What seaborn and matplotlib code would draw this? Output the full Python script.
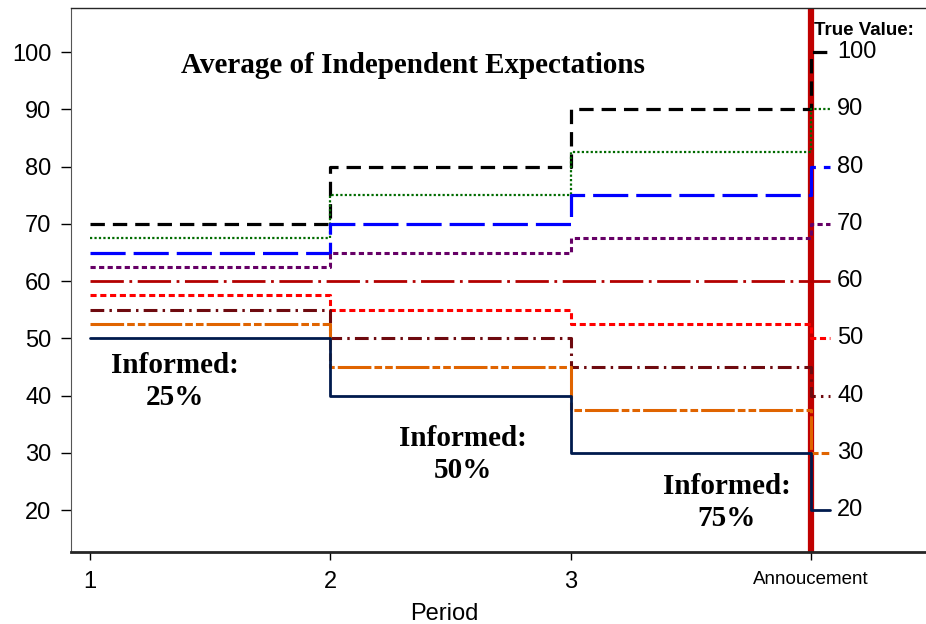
import numpy as np
import pandas as pd
import matplotlib
matplotlib.use("Agg")
import matplotlib.pyplot as plt
import seaborn as sns

# periods: 1, 2, 3 and the announcement (4)
periods = [1, 2, 3, 4]
period_labels = ["1", "2", "3", "Annoucement"]

# average of independent expectations per true-value scenario
exp_100 = [70, 80, 90, 100]
exp_90 = [67.5, 75, 82.5, 90]
exp_80 = [65, 70, 75, 80]
exp_70 = [62.5, 65, 67.5, 70]
exp_60 = [60, 60, 60, 60]
exp_50 = [57.5, 55, 52.5, 50]
exp_40 = [55, 50, 45, 40]
exp_30 = [52.5, 45, 37.5, 30]
exp_20 = [50, 40, 30, 20]

series_names = ["100", "90", "80", "70", "60", "50", "40", "30", "20"]
series_values = [exp_100, exp_90, exp_80, exp_70, exp_60, exp_50, exp_40, exp_30, exp_20]
true_values = [100, 90, 80, 70, 60, 50, 40, 30, 20]

informed_labels = ["Informed:\n25%", "Informed:\n50%", "Informed:\n75%"]

colors = {
    "100": "#000000",
    "90": "#006b00",
    "80": "#0000ff",
    "70": "#660066",
    "60": "#b30000",
    "50": "#ff0000",
    "40": "#6e0a0f",
    "30": "#e06400",
    "20": "#001a4d",
}
dash_map = {
    "100": (4.5, 2.5),
    "90": (1.0, 1.0),
    "80": (11, 2.5),
    "70": (1.7, 1.1),
    "60": (12, 2, 1, 2),
    "50": (2.0, 1.2),
    "40": (4.5, 1.7, 0.8, 1.7),
    "30": (11, 1, 2.5, 1, 2.5, 1),
    "20": "",
}
widths = {"100": 2.3, "90": 1.6, "80": 2.3, "70": 2.2, "60": 2.0,
          "50": 2.2, "40": 2.2, "30": 2.2, "20": 2.0}

stub = 0.08  # short segment drawn past the announcement

rows = []
for name, vals in zip(series_names, series_values):
    xs = periods + [periods[-1] + stub]
    ys = vals + [vals[-1]]
    for x, y in zip(xs, ys):
        rows.append({"period": x, "value": y, "series": name})
df = pd.DataFrame(rows)

sns.set_style("ticks")
plt.rcParams["font.family"] = ["Liberation Sans", "DejaVu Sans"]
plt.rcParams["text.color"] = "black"
plt.rcParams["xtick.color"] = "black"
plt.rcParams["ytick.color"] = "black"
plt.rcParams["axes.labelcolor"] = "black"

fig = plt.figure(figsize=(9.26, 6.24), dpi=100)
ax = fig.add_axes([0.0767, 0.1154, 0.9233, 0.8718])

ax.axvline(periods[-1], color="#c00000", lw=4.5, zorder=1)

sns.lineplot(data=df, x="period", y="value", hue="series", style="series",
             size="series", palette=colors, dashes=dash_map, sizes=widths,
             hue_order=series_names, style_order=series_names, size_order=series_names,
             drawstyle="steps-post", estimator=None, sort=False, legend=False,
             ax=ax, zorder=3)

# true value labels at the right
for v in true_values:
    ax.text(periods[-1] + stub + 0.03, v, str(v), fontsize=17, va="center", ha="left")
ax.text(periods[-1] + 0.015, 103.8, "True Value:", fontsize=13.5, fontweight="bold",
        va="center", ha="left")

serif = ["Liberation Serif", "DejaVu Serif"]
ax.text(0.4, 0.895, "Average of Independent Expectations", transform=ax.transAxes,
        family=serif, fontweight="bold", fontsize=21, ha="center", va="center")
for lab, (px, py) in zip(informed_labels, [(0.1216, 0.313), (0.458, 0.179), (0.767, 0.091)]):
    ax.text(px, py, lab, transform=ax.transAxes, family=serif, fontweight="bold",
            fontsize=21, ha="center", va="center", linespacing=1.25)

ax.set_xlim(0.92, 4.48)
ax.set_ylim(12.7, 107.7)
ax.set_yticks(np.arange(20, 101, 10))
ax.set_xticks(periods)
ax.set_xticklabels(period_labels)
for t in ax.get_xticklabels():
    t.set_fontsize(13.5 if t.get_text() == "Annoucement" else 17)
ax.tick_params(axis="y", labelsize=17, length=7, width=1, pad=7)
ax.tick_params(axis="x", length=6, width=1, pad=8)
ax.set_xlabel("Period", fontsize=17, labelpad=7, x=0.437)
ax.set_ylabel("")

ax.spines["right"].set_visible(False)
ax.spines["bottom"].set_linewidth(2)
ax.spines["top"].set_linewidth(1)
ax.spines["left"].set_color("#555555")

fig.savefig("out.png", dpi=100)
